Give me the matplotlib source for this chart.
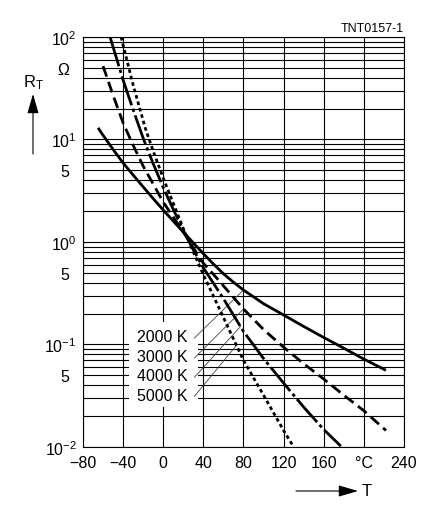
import numpy as np
import matplotlib
matplotlib.use('Agg')
import matplotlib.pyplot as plt
from matplotlib.patches import Rectangle, FancyArrowPatch
from matplotlib.ticker import FixedLocator, FixedFormatter

plt.rcParams['font.family'] = ['Liberation Sans', 'DejaVu Sans']
plt.rcParams['mathtext.default'] = 'regular'
plt.rcParams['font.size'] = 11.5

# curves (T in degC, R_T in ohm)
t_2000 = [-65, -60, -50, -40, -30, -20, -10, 0, 10, 20, 30, 40, 50, 60, 70, 80,
          100, 120, 140, 160, 180, 200, 222]
r_2000 = [13.0, 11.0, 8.0, 5.9, 4.5, 3.45, 2.65, 2.05, 1.6, 1.25, 0.98, 0.77, 0.61, 0.49, 0.405, 0.34,
          0.25, 0.194, 0.15, 0.117, 0.092, 0.072, 0.056]

t_3000 = [-60, -50, -40, -30, -20, 0, 20, 40, 52, 80, 100, 120, 140, 160, 180, 200, 222]
r_3000 = [52, 27, 14.5, 8.8, 5.5, 2.45, 1.25, 0.62, 0.46, 0.222, 0.14, 0.094, 0.065, 0.046, 0.032, 0.0226, 0.0145]

t_4000 = [-53, -40, -30, -20, -10, 0, 10, 20, 30, 40, 52, 60, 80, 100, 120, 140, 160, 177]
r_4000 = [100, 38, 19.5, 10.3, 5.8, 3.4, 2.08, 1.3, 0.84, 0.56, 0.37, 0.28, 0.134, 0.073, 0.042, 0.0245, 0.0148, 0.0102]

t_5000 = [-42, -30, -18, -10, 0, 20, 30, 40, 52, 80, 100, 120, 130]
r_5000 = [100, 34, 13, 7.7, 4.2, 1.35, 0.8, 0.48, 0.27, 0.07, 0.032, 0.0145, 0.01]

labels = ['2000 K', '3000 K', '4000 K', '5000 K']
label_r = [0.119, 0.076, 0.0493, 0.0321]
leader_end_t = [80, 80, 77, 73]

x_ticks = [-80, -40, 0, 40, 80, 120, 160, 200, 240]
x_labels = ['\u221280', '\u221240', '0', '40', '80', '120', '160', '\u00b0C', '240']

fig = plt.figure(figsize=(4.3, 5.1), dpi=100)
ax = fig.add_axes([0.193, 0.1216, 0.7465, 0.8039])

curves = [(t_2000, r_2000, '-'),
          (t_3000, r_3000, (0, (4, 2))),
          (t_4000, r_4000, (0, (11, 1.3, 1.2, 1.3))),
          (t_5000, r_5000, (0, (1.3, 1.1)))]
for t, r, ls in curves:
    ax.plot(t, r, color='black', lw=2.0, ls=ls, solid_capstyle='butt',
            dash_capstyle='butt', solid_joinstyle='round', zorder=3)

ax.set_yscale('log')
ax.set_xlim(-80, 240)
ax.set_ylim(1e-2, 1e2)

ax.xaxis.set_major_locator(FixedLocator(x_ticks))
ax.xaxis.set_major_formatter(FixedFormatter(x_labels))

dec = [1e-2, 1e-1, 1e0, 1e1, 1e2]
ax.yaxis.set_major_locator(FixedLocator(dec))
ax.yaxis.set_major_formatter(FixedFormatter(['$10^{-2}$', '$10^{-1}$', '$10^{0}$', '$10^{1}$', '$10^{2}$']))
minor = []
minor_lab = []
for k in [-2, -1, 0, 1]:
    for m in range(2, 10):
        minor.append(m * 10.0 ** k)
        if m == 5:
            minor_lab.append('\u03a9' if k == 1 else '5')
        else:
            minor_lab.append('')
ax.yaxis.set_minor_locator(FixedLocator(minor))
ax.yaxis.set_minor_formatter(FixedFormatter(minor_lab))

ax.set_axisbelow(True)
ax.grid(True, which='both', color='black', lw=0.8)
ax.tick_params(which='both', length=0)
ax.tick_params(axis='x', pad=6)
ax.tick_params(axis='y', which='major', pad=4.5)
ax.tick_params(axis='y', which='minor', pad=10)
for s in ax.spines.values():
    s.set_linewidth(0.8)

# white box behind the curve labels
ax.add_patch(Rectangle((-34, 0.0245), 69, 0.166 - 0.0245, facecolor='white',
                       edgecolor='none', zorder=1))
for lab, ry, te, (t, r, ls) in zip(labels, label_r, leader_end_t, curves):
    ax.text(24, ry, lab, ha='right', va='center', zorder=4)
    re = 10 ** np.interp(te, t, np.log10(r))
    ax.plot([31, te], [ry * 0.97, re], color='#444444', lw=0.6, zorder=2)

fig.text(0.9395, 0.943, 'TNT0157-1', ha='right', va='center', fontsize=9)

fig.text(0.0535, 0.829, '$R_T$', ha='left', va='baseline', fontsize=12)
fig.patches.append(FancyArrowPatch(
    (33 / 430, 1 - 155 / 510), (33 / 430, 1 - 95 / 510), transform=fig.transFigure,
    arrowstyle='-|>,head_length=12,head_width=3.5', mutation_scale=1, lw=0.8,
    color='black', shrinkA=0, shrinkB=0))

fig.patches.append(FancyArrowPatch(
    (296 / 430, 1 - 492 / 510), (358 / 430, 1 - 492 / 510), transform=fig.transFigure,
    arrowstyle='-|>,head_length=12,head_width=3.5', mutation_scale=1, lw=0.8,
    color='black', shrinkA=0, shrinkB=0))
fig.text(362 / 430, 1 - 492 / 510, 'T', ha='left', va='center', fontsize=12)

fig.savefig('out.png', dpi=100)
